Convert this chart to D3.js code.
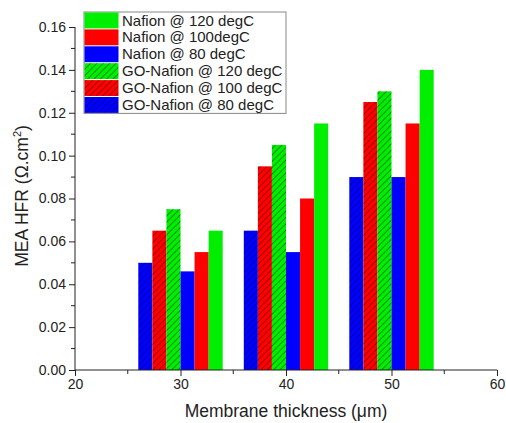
<!DOCTYPE html>
<html>
<head>
<meta charset="utf-8">
<script src="https://cdn.jsdelivr.net/npm/d3@7"></script>
<style>
  body { margin: 0; background: #fff; }
  text { font-family: "Liberation Sans", Arial, sans-serif; fill: #222; }
</style>
</head>
<body>
<svg width="506" height="423"></svg>
<script>
// data
const thickness = [30, 40, 50]
const goNafion80 = [0.050, 0.065, 0.090]
const goNafion100 = [0.065, 0.095, 0.125]
const goNafion120 = [0.075, 0.105, 0.130]
const nafion80 = [0.046, 0.055, 0.090]
const nafion100 = [0.055, 0.080, 0.115]
const nafion120 = [0.065, 0.115, 0.140]
const xTicks = [20, 30, 40, 50, 60]
const yTicks = [0, 0.02, 0.04, 0.06, 0.08, 0.10, 0.12, 0.14, 0.16]
const legendNames = ["Nafion @ 120 degC", "Nafion @ 100degC", "Nafion @ 80 degC",
                     "GO-Nafion @ 120 degC", "GO-Nafion @ 100 degC", "GO-Nafion @ 80 degC"]

const allSeries = [goNafion80, goNafion100, goNafion120, nafion80, nafion100, nafion120]
const colors = ["#0000ff", "#ff0000", "#00ee00", "#0000ff", "#ff0000", "#00ee00"]
const hatchColors = ["#000080", "#700000", "#006000"]
const hatched = [true, true, true, false, false, false]

var svg = d3.select("svg")
var mLeft = 75, mRight = 497, mTop = 27, mBottom = 370

const x = d3.scaleLinear().domain([20, 60]).range([mLeft, mRight])
const y = d3.scaleLinear().domain([0, 0.16]).range([mBottom, mTop])
const barW = 8 / 6 // in data units

var defs = svg.append("defs")
hatchColors.forEach(function (c, i) {
    const p = defs.append("pattern")
      .attr("id", "hatch" + i)
      .attr("patternUnits", "userSpaceOnUse")
      .attr("width", 4.5).attr("height", 4.5)
      .attr("patternTransform", "rotate(45)")
    p.append("rect").attr("width", 4.5).attr("height", 4.5).attr("fill", colors[i])
    p.append("line").attr("x1", 0).attr("y1", 0).attr("x2", 0).attr("y2", 4.5)
      .attr("stroke", c).attr("stroke-width", 1.3)
})
function fillOf(i) { return hatched[i] ? "url(#hatch" + i + ")" : colors[i] }

// bars
const g = svg.append("g")
allSeries.forEach(function (vals, si) {
    g.selectAll(".s" + si)
      .data(vals)
      .join("rect")
      .attr("class", "s" + si)
      .attr("x", (d, k) => x(thickness[k] - 4 + si * barW))
      .attr("y", d => y(d))
      .attr("width", x(20 + barW) - x(20))
      .attr("height", d => mBottom - y(d))
      .attr("fill", fillOf(si))
})

// axes
const xAxis = d3.axisBottom(x).tickValues(xTicks).tickFormat(d3.format("d")).tickSize(6).tickPadding(3)
const gx = svg.append("g").attr("transform", "translate(0," + mBottom + ")").call(xAxis)
gx.selectAll(".minor").data([25, 35, 45, 55]).join("line").attr("class", "minor")
  .attr("x1", d => x(d)).attr("x2", d => x(d)).attr("y1", 0).attr("y2", 4).attr("stroke", "#222")

const yAxis = d3.axisLeft(y).tickValues(yTicks).tickFormat(d3.format(".2f")).tickSize(6).tickPadding(3)
const gy = svg.append("g").attr("transform", "translate(" + mLeft + ",0)").call(yAxis)
gy.selectAll(".minor").data(d3.range(0.01, 0.16, 0.02)).join("line").attr("class", "minor")
  .attr("y1", d => y(d)).attr("y2", d => y(d)).attr("x1", 0).attr("x2", -4).attr("stroke", "#222")

svg.selectAll(".domain").attr("stroke", "#222")
svg.selectAll(".tick line").attr("stroke", "#222")
svg.selectAll(".tick text").style("font-size", "14px").attr("fill", "#222")
gx.selectAll(".domain").attr("d", "M" + mLeft + ",0H" + mRight)
gy.selectAll(".domain").attr("d", "M0," + mTop + "V" + mBottom)

// axis titles
svg.append("text").attr("x", (mLeft + mRight) / 2).attr("y", 417)
  .attr("text-anchor", "middle").style("font-size", "17.5px")
  .text("Membrane thickness (\u03bcm)")
const yt = svg.append("text").attr("transform", "translate(28,196) rotate(-90)")
  .attr("text-anchor", "middle").style("font-size", "17.5px")
yt.append("tspan").text("MEA HFR (\u03a9.cm")
yt.append("tspan").attr("dy", -7).style("font-size", "11px").text("2")
yt.append("tspan").attr("dy", 7).text(")")

// legend
const lg = svg.append("g").attr("transform", "translate(84,12)")
const rowH = 16.9
lg.append("rect").attr("width", 202).attr("height", rowH * 6)
  .attr("fill", "#fff").attr("stroke", "#888").attr("stroke-width", 1)
const legendIdx = [5, 4, 3, 2, 1, 0]
legendIdx.forEach(function (si, r) {
    lg.append("rect").attr("x", 0.5).attr("y", r * rowH + 0.5)
      .attr("width", 34).attr("height", rowH - 1).attr("fill", fillOf(si))
    lg.append("text").attr("x", 38).attr("y", r * rowH + 13.5)
      .style("font-size", "15px").text(legendNames[r])
})
</script>
</body>
</html>
